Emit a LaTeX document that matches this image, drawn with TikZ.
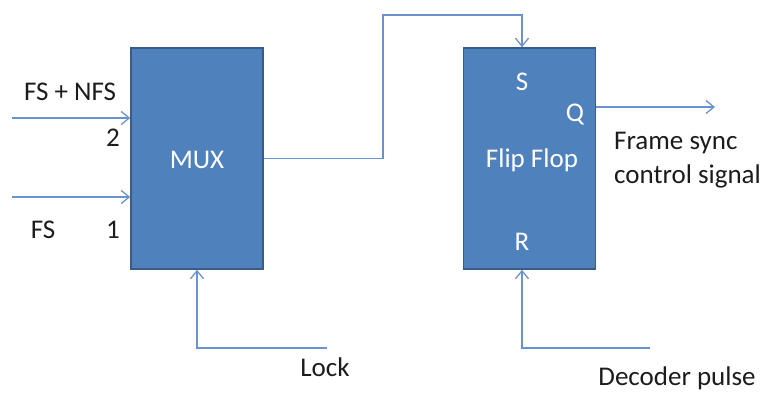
\documentclass[tikz,border=0pt]{standalone}
\usepackage{fontspec}
\setmainfont{Carlito}
\usetikzlibrary{arrows.meta}
\definecolor{boxFill}{RGB}{79,129,189}
\definecolor{boxLine}{RGB}{56,93,138}
\definecolor{sigLine}{RGB}{104,147,204}
\definecolor{txtC}{RGB}{28,28,28}
\begin{document}
\begin{tikzpicture}
  [x=1pt,y=-1pt,
   blockN/.style={rectangle,draw=boxLine,fill=boxFill,line width=1.5pt,
                  minimum width=132pt,minimum height=221pt,inner sep=0pt},
   inN/.style={text=white,inner sep=0pt},
   labelN/.style={text=txtC,inner sep=0pt},
   sig/.style={draw=sigLine,line width=1.5pt,
               -{Straight Barb[length=8pt,width=13pt,line width=1.3pt]}},
   font=\fontsize{27}{34}\selectfont]

  \useasboundingbox (0,0) rectangle (764,396);

  \node[blockN] (mux) at (197,158.5) {};
  \node[blockN] (ff)  at (529.5,158.5) {};

  \node[inN] (muxT) at (197,160) {MUX};
  \node[inN] (ffT)  at (532,160) {Flip Flop};
  \node[inN] (s)    at (522,82)  {S};
  \node[inN] (r)    at (522,242) {R};
  \node[inN] (q)    at (575,115) {Q};

  \node[labelN] (fsnfs) at (70,92)  {FS + NFS};
  \node[labelN] (two)   at (113,138) {2};
  \node[labelN] (fs)    at (43,230) {FS};
  \node[labelN] (one)   at (113,230) {1};
  \node[labelN,anchor=west,align=left] (fsc) at (614,160)
        {Frame sync\\control signal};
  \node[labelN] (lock)  at (325,367) {Lock};
  \node[labelN] (dec)   at (677,378) {Decoder pulse};

  \coordinate (in2)  at (12,118);
  \coordinate (in1)  at (12,197);
  \coordinate (bend) at (383,15);
  \coordinate (qE)   at (715,107);
  \coordinate (lockE) at (327,348);
  \coordinate (decE)  at (650,348);

  \draw [sig] (in2) -- (in2 -| mux.west);
  \draw [sig] (in1) -- (in1 -| mux.west);
  \draw [sig] (mux.east) -| (bend) -| ([xshift=-7.5pt]ff.north);
  \draw [sig] (ff.east |- qE) -- (qE);
  \draw [sig] (lockE) -| (mux.south);
  \draw [sig] (decE) -| ([xshift=-7.5pt]ff.south);
\end{tikzpicture}
\end{document}
